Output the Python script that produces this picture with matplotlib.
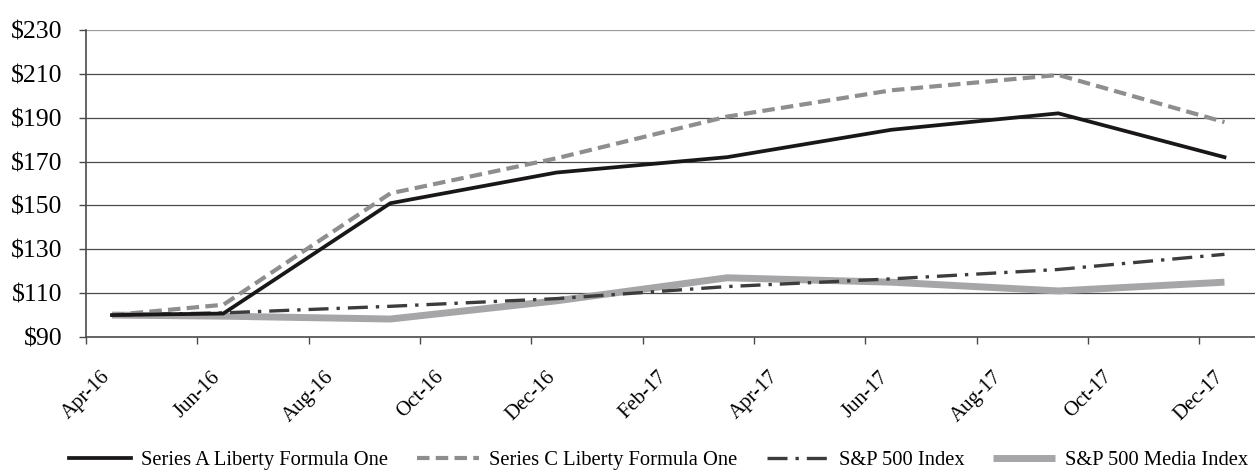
import pandas as pd
import numpy as np
import matplotlib.pyplot as plt

plt.rcParams['font.family'] = ['Liberation Serif', 'DejaVu Serif']

dates = ['2016-04-15', '2016-06-15', '2016-09-15', '2016-12-15',
         '2017-03-17', '2017-06-15', '2017-09-15', '2017-12-15']
series_a = [100, 100.7, 151, 165, 172, 184.5, 192, 172]
series_c = [100, 104.7, 155.5, 171.5, 190.5, 202.5, 209.5, 188]
sp500 = [100, 101, 104, 107.5, 113, 116.5, 120.8, 127.7]
sp_media = [100, 99.5, 98.2, 106.5, 117, 115, 111, 115]

tick_labels = ['Apr-16', 'Jun-16', 'Aug-16', 'Oct-16', 'Dec-16', 'Feb-17',
               'Apr-17', 'Jun-17', 'Aug-17', 'Oct-17', 'Dec-17']
y_ticks = [90, 110, 130, 150, 170, 190, 210, 230]

# months since 1 Apr 2016, so the month ticks are evenly spaced
d = pd.to_datetime(dates)
x = (d.year - 2016) * 12 + (d.month - 4) + (d.day - 1) / d.days_in_month
x = np.asarray(x, dtype=float)

fig = plt.figure(figsize=(12.55, 4.73), dpi=100)
ax = fig.add_axes([86 / 1255, 1 - 337 / 473, 1 - 86 / 1255, (337 - 30) / 473])

ax.plot(x, sp_media, color='#a6a6a8', lw=5.0, solid_capstyle='butt',
        label='S&P 500 Media Index', zorder=2)
ax.plot(x, sp500, color='#3c3c3c', lw=2.4, dashes=(6, 2.4, 1, 2.4),
        label='S&P 500 Index', zorder=3)
ax.plot(x, series_c, color='#8e8e90', lw=3.0, dashes=(3, 1.5),
        label='Series C Liberty Formula One', zorder=4)
ax.plot(x, series_a, color='#1a1718', lw=2.7,
        label='Series A Liberty Formula One', zorder=5)

ax.set_xlim(0, 21)
ax.set_ylim(90, 230)
ax.set_yticks(y_ticks)
ax.set_yticklabels(['$' + str(v) for v in y_ticks], fontsize=18.5)
ax.set_xticks(np.arange(0, 21, 2))
ax.set_xticklabels(tick_labels, fontsize=15, rotation=45, ha='center', va='top')

for v in y_ticks[1:-1]:
    ax.axhline(v, color='#4a4a4a', lw=0.9, zorder=1)
ax.axhline(230, color='#9a9a9a', lw=1.6, zorder=1)

for s in ['top', 'right']:
    ax.spines[s].set_visible(False)
ax.spines['left'].set_color('#4a4a4a')
ax.spines['bottom'].set_color('#4a4a4a')
ax.spines['left'].set_linewidth(1.2)
ax.spines['bottom'].set_linewidth(1.2)
ax.tick_params(axis='y', length=5, width=1, color='#4a4a4a', pad=12)
ax.tick_params(axis='x', length=5, width=1, color='#4a4a4a', pad=17)

handles, labels = ax.get_legend_handles_labels()
order = [3, 2, 1, 0]
fig.legend([handles[i] for i in order], [labels[i] for i in order],
           loc='center', bbox_to_anchor=(0.525, 0.026), ncol=4, frameon=False,
           fontsize=14.8, handlelength=3.0, handletextpad=0.5, columnspacing=1.42)

fig.savefig('out.png', dpi=100)
